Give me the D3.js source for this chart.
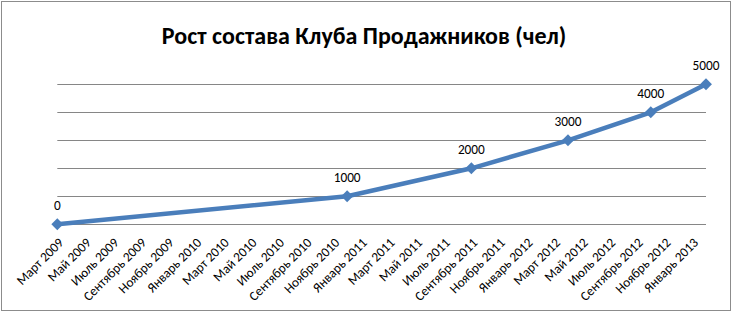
<!DOCTYPE html>
<html>
<head>
<meta charset="utf-8">
<script src="https://cdn.jsdelivr.net/npm/d3@7"></script>
<style>
  body { margin: 0; background: #fff; }
  text { font-family: Calibri, Carlito, "Open Sans", sans-serif; }
</style>
</head>
<body>
<svg id="chart" width="733" height="313"></svg>
<script>
const title = 'Рост состава Клуба Продажников (чел)';

// months counted from March 2009 (date axis, monthly base unit)
const pointMonths = [0, 21, 30, 37, 43, 47];
const pointValues = [0, 1000, 2000, 3000, 4000, 5000];

const tickLabels = [
  'Март 2009', 'Май 2009', 'Июль 2009', 'Сентябрь 2009', 'Ноябрь 2009',
  'Январь 2010', 'Март 2010', 'Май 2010', 'Июль 2010', 'Сентябрь 2010',
  'Ноябрь 2010', 'Январь 2011', 'Март 2011', 'Май 2011', 'Июль 2011',
  'Сентябрь 2011', 'Ноябрь 2011', 'Январь 2012', 'Март 2012', 'Май 2012',
  'Июль 2012', 'Сентябрь 2012', 'Ноябрь 2012', 'Январь 2013'
];
const yTicks = [0, 1000, 2000, 3000, 4000, 5000];

const svg = d3.select('#chart');

svg.append('rect')
  .attr('x', 1.5).attr('y', 1.5)
  .attr('width', 729).attr('height', 309)
  .attr('fill', '#fff')
  .attr('stroke', '#8c8c8c');

const x = d3.scaleLinear().domain([0, 47]).range([57.3, 706]);
const y = d3.scaleLinear().domain([0, 5000]).range([224.3, 84.3]);

svg.append('text')
  .attr('x', 364).attr('y', 44)
  .attr('text-anchor', 'middle')
  .attr('font-size', 24)
  .attr('font-weight', 'bold')
  .attr('fill', '#000')
  .text(title);

// gridlines
svg.append('g')
  .selectAll('line')
  .data(yTicks)
  .join('line')
    .attr('x1', x(0)).attr('x2', x(47))
    .attr('y1', d => Math.round(y(d)) + 0.5)
    .attr('y2', d => Math.round(y(d)) + 0.5)
    .attr('stroke', '#868686');

// category labels every two months
svg.append('g')
  .selectAll('text')
  .data(tickLabels)
  .join('text')
    .attr('transform', (d, i) => `translate(${x(i * 2) + 0.5},${237}) rotate(-45)`)
    .attr('text-anchor', 'end')
    .attr('dy', '0.68em')
    .attr('font-size', 13.3)
    .attr('fill', '#000')
    .text(d => d);

const pts = pointMonths.map((m, i) => [m, pointValues[i]]);

svg.append('path')
  .datum(pts)
  .attr('fill', 'none')
  .attr('stroke', '#4a7ebb')
  .attr('stroke-width', 4.5)
  .attr('stroke-linejoin', 'round')
  .attr('d', d3.line().x(d => x(d[0])).y(d => y(d[1])));

svg.append('g')
  .selectAll('path')
  .data(pts)
  .join('path')
    .attr('transform', d => `translate(${x(d[0])},${y(d[1])})`)
    .attr('d', d3.symbol(d3.symbolDiamond2, 90))
    .attr('fill', '#4a7ebb');

svg.append('g')
  .selectAll('text')
  .data(pts)
  .join('text')
    .attr('x', d => x(d[0]))
    .attr('y', d => y(d[1]) - 14)
    .attr('text-anchor', 'middle')
    .attr('font-size', 13.3)
    .attr('fill', '#000')
    .text(d => d[1]);
</script>
</body>
</html>
